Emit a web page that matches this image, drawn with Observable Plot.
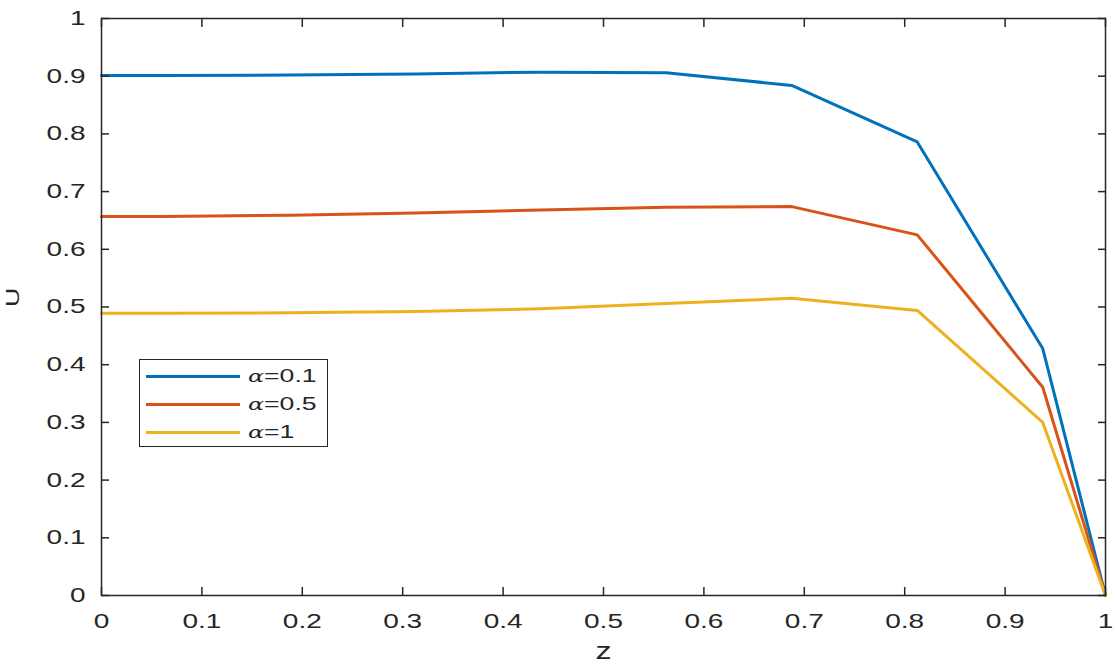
<!DOCTYPE html>
<html>
<head>
<meta charset="utf-8">
<script src="https://cdn.jsdelivr.net/npm/d3@7"></script>
<script src="https://cdn.jsdelivr.net/npm/@observablehq/plot@0.6"></script>
<style>
  html, body { margin: 0; padding: 0; background: #fff; }
  #wrap { position: relative; width: 1116px; height: 669px; }
  #legend {
    position: absolute; left: 139px; top: 359px; width: 189px; height: 88px;
    border: 1.5px solid #262626; background: #fff; box-sizing: border-box;
    font-family: "Liberation Sans", Arial, sans-serif; font-size: 19px; color: #262626;
  }
  .row { position: absolute; left: 6px; height: 28px; display: flex; align-items: center; }
  .sw { width: 94px; height: 3px; margin-right: 8px; }
  .lab { display: inline-block; transform: scaleX(1.4); transform-origin: left center; white-space: nowrap; }
  .a { font-family: "DejaVu Serif", serif; font-style: italic; font-size: 17px; }
</style>
</head>
<body>
<div id="wrap"></div>
<script>
const z = [0, 0.0625, 0.1875, 0.3125, 0.4375, 0.5625, 0.6875, 0.8125, 0.9375, 1];
const u01 = [0.901, 0.901, 0.902, 0.904, 0.907, 0.906, 0.884, 0.786, 0.428, 0];
const u05 = [0.657, 0.657, 0.659, 0.663, 0.668, 0.673, 0.674, 0.625, 0.361, 0];
const u1  = [0.489, 0.489, 0.490, 0.492, 0.497, 0.506, 0.515, 0.494, 0.300, 0];
const seriesNames = ["α=0.1", "α=0.5", "α=1"];
const seriesColors = ["#0072BD", "#D95319", "#EDB120"];
const xTicks = [0, 0.1, 0.2, 0.3, 0.4, 0.5, 0.6, 0.7, 0.8, 0.9, 1];
const yTicks = [0, 0.1, 0.2, 0.3, 0.4, 0.5, 0.6, 0.7, 0.8, 0.9, 1];

const seriesVals = [u01, u05, u1];
const data = seriesVals.flatMap((vals, i) => z.map((zz, j) => ({z: zz, u: vals[j], s: seriesNames[i]})));

const fmt = d => String(d);
const tickColor = "#262626";
const font = "'Liberation Sans', Arial, sans-serif";

const plot = Plot.plot({
  width: 1116,
  height: 669,
  marginLeft: 101,
  marginRight: 11,
  marginTop: 18,
  marginBottom: 74,
  style: {fontFamily: font, fontSize: "20px", color: tickColor, background: "#fff"},
  x: {domain: [0, 1]},
  y: {domain: [0, 1]},
  color: {domain: seriesNames, range: seriesColors},
  marks: [
    Plot.line(data, {x: "z", y: "u", stroke: "s", strokeWidth: 3}),
    Plot.frame({stroke: tickColor, strokeWidth: 1.5}),
    Plot.axisX({ticks: xTicks, tickFormat: fmt, tickSize: -8, tickPadding: 26, fontSize: 20, label: null, stroke: tickColor, strokeWidth: 1.5}),
    Plot.axisX({anchor: "top", ticks: xTicks, tickSize: -8, tickFormat: () => "", label: null, stroke: tickColor, strokeWidth: 1.5}),
    Plot.axisY({ticks: yTicks, tickFormat: fmt, tickSize: -8, tickPadding: 24, fontSize: 20, label: null, stroke: tickColor, strokeWidth: 1.5}),
    Plot.axisY({anchor: "right", ticks: yTicks, tickSize: -8, tickFormat: () => "", label: null, stroke: tickColor, strokeWidth: 1.5}),
    Plot.text(["z"], {frameAnchor: "bottom", dy: 63, fontSize: 23, fill: tickColor}),
    Plot.text(["U"], {frameAnchor: "left", dx: -89, rotate: -90, fontSize: 19, fill: tickColor})
  ]
});
const wrap = document.getElementById("wrap");
wrap.appendChild(plot);

// widen the text horizontally like the reference rendering
plot.querySelectorAll("text").forEach(t => {
  const len = t.getComputedTextLength();
  if (len > 0) {
    t.setAttribute("textLength", len * 1.4);
    t.setAttribute("lengthAdjust", "spacingAndGlyphs");
  }
});

const legend = document.createElement("div");
legend.id = "legend";
seriesNames.forEach((name, i) => {
  const row = document.createElement("div");
  row.className = "row";
  row.style.top = (2 + i * 28) + "px";
  const sw = document.createElement("div");
  sw.className = "sw";
  sw.style.background = seriesColors[i];
  const lab = document.createElement("span");
  lab.className = "lab";
  const parts = name.split("=");
  lab.innerHTML = '<span class="a">' + parts[0] + '</span>=' + parts[1];
  row.appendChild(sw);
  row.appendChild(lab);
  legend.appendChild(row);
});
wrap.appendChild(legend);
</script>
</body>
</html>
